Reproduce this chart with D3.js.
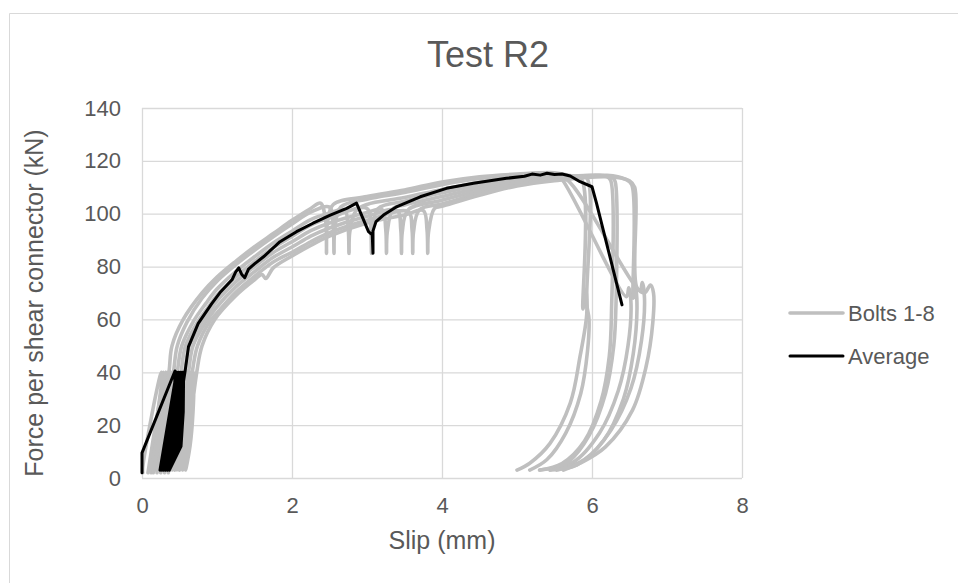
<!DOCTYPE html>
<html>
<head>
<meta charset="utf-8">
<script src="https://cdn.jsdelivr.net/npm/d3@7"></script>
<style>
  body { margin: 0; background: #fff; }
  text { font-family: "Liberation Sans", Arial, sans-serif; fill: #595959; }
</style>
</head>
<body>
<svg width="958" height="583"></svg>
<script>
  // tick values and legend labels
  const xTicks = [0, 2, 4, 6, 8];
  const yTicks = [0, 20, 40, 60, 80, 100, 120, 140];
  const seriesNames = ['Bolts 1-8', 'Average'];

  // slip (mm), force (kN)
  const bolt1 = [[0.01,2],[0.01,4],[0.26,40],
    [0.25,25],[0.21,12],[0.13,3],[0.29,40],
    [0.28,25],[0.24,12],[0.16,3],[0.32,40],
    [0.31,25],[0.27,12],[0.19,3],[0.36,40],
    [0.4,50],[0.55,60],[0.8,70],[1.0,76],[1.25,82],[1.5,87.5],[1.75,92.5],[2.0,97.5],[2.25,102],[2.38,104],
    [2.45,97],[2.46,85],[2.47,96],[2.55,103.5],
    [3.0,106.5],[3.5,109],[4.0,112],[4.5,114],[5.0,115],[5.5,115.5],[5.7,114.5],[5.86,113],
    [5.88,64],[5.92,71],[5.93,62],[5.84,45.9],[5.71,28.3],[5.44,13.1],[5.17,5.6],[5.0,3]];

  const bolt2 = [[0.08,2],[0.31,40],
    [0.30,25],[0.26,12],[0.18,3],[0.34,40],
    [0.33,25],[0.29,12],[0.21,3],[0.38,40],
    [0.37,25],[0.33,12],[0.24,3],[0.42,40],
    [0.47,50],[0.6,59],[0.8,68],[1.0,74.5],[1.25,80.7],[1.5,86.2],[1.75,91.3],[2.0,96.1],[2.25,100.6],[2.5,102.5],
    [2.55,95],[2.56,85],[2.57,94],[2.65,102.5],
    [3.0,105.5],[3.5,108],[4.0,111],[4.5,113.3],[5.0,114.5],[5.5,115.2],[5.6,113],
    [6.46,68.6],[6.49,72],[6.52,66],[6.48,50],[6.35,33],[6.1,17],[5.75,6],[5.3,3]];

  const bolt3 = [[0.12,2],[0.36,40],
    [0.35,25],[0.31,12],[0.22,3],[0.39,40],
    [0.38,25],[0.34,12],[0.25,3],[0.43,40],
    [0.42,25],[0.38,12],[0.28,3],[0.47,40],
    [0.53,50],[0.68,59],[0.85,66],[1.0,71.5],[1.25,78.1],[1.5,83.7],[1.75,88.9],[2.0,93.4],[2.25,97.8],[2.5,100.2],[2.7,101.5],
    [2.75,94],[2.76,85],[2.77,93],[2.85,101],
    [3.0,103.5],[3.5,106.1],[4.0,109.2],[4.5,111.9],[5.0,113.6],[5.5,114.6],[5.8,114],[5.93,113.5],
    [5.93,66],[5.96,60],[5.94,48],[5.85,32],[5.65,17],[5.4,7],[5.17,3]];

  const bolt4 = [[0.15,2],[0.41,40],
    [0.40,25],[0.36,12],[0.27,3],[0.44,40],
    [0.43,25],[0.39,12],[0.30,3],[0.48,40],
    [0.47,25],[0.43,12],[0.33,3],[0.52,40],
    [0.58,50],[0.74,59],[0.88,64.5],[1.0,69.2],[1.25,76.1],[1.5,81.9],[1.75,87.1],[2.0,91.4],[2.25,95.7],[2.5,98.4],[3.0,102],
    [3.05,94],[3.06,85],[3.07,93],[3.15,102],
    [3.5,104.7],[4.0,107.9],[4.5,110.8],[5.0,113],[5.5,114.2],[5.68,112.5],
    [6.64,71],[6.67,74],[6.7,68],[6.66,52],[6.52,34],[6.25,18],[5.9,7],[5.53,3]];

  const bolt5 = [[0.2,2],[0.46,40],
    [0.45,25],[0.41,12],[0.32,3],[0.49,40],
    [0.48,25],[0.44,12],[0.35,3],[0.53,40],
    [0.52,25],[0.48,12],[0.38,3],[0.57,40],
    [0.63,50],[0.8,59],[0.9,63],[1.0,67],[1.25,74.2],[1.5,80],[1.75,85.3],[2.0,89.4],[2.25,93.6],[2.5,96.5],[3.0,100.5],[3.2,101.6],
    [3.25,94],[3.26,85],[3.27,93],[3.35,102],
    [3.5,103.3],[4.0,106.5],[4.5,109.8],[5.0,112.3],[5.5,113.7],[6.0,114.5],[6.2,114],[6.25,112.5],
    [6.26,63],[6.23,46],[6.12,29],[5.9,14],[5.6,5.5],[5.31,3]];

  const bolt6 = [[0.25,2],[0.51,40],
    [0.50,25],[0.46,12],[0.38,3],[0.54,40],
    [0.53,25],[0.49,12],[0.41,3],[0.58,40],
    [0.57,25],[0.53,12],[0.44,3],[0.62,40],
    [0.68,50],[0.85,59],[1.0,64.8],[1.25,72.3],[1.5,78.1],[1.75,83.5],[2.0,87.4],[2.25,91.5],[2.5,94.6],[3.0,99],[3.4,101.3],
    [3.45,94],[3.46,85],[3.47,93],[3.55,101.5],
    [4.0,105.1],[4.5,108.8],[5.0,111.6],[5.5,113.3],[6.1,114.5],[6.28,113.5],[6.31,112],
    [6.32,66],[6.29,50],[6.18,32],[5.96,16],[5.7,6.5],[5.44,3]];

  const bolt7 = [[0.3,2],[0.56,40],
    [0.55,25],[0.51,12],[0.44,3],[0.59,40],
    [0.58,25],[0.54,12],[0.47,3],[0.63,40],
    [0.62,25],[0.58,12],[0.50,3],[0.67,40],
    [0.74,50],[0.91,59.5],[1.0,62.5],[1.25,70.3],[1.5,76.3],[1.75,81.7],[2.0,85.4],[2.25,89.4],[2.5,92.8],[3.0,97.5],[3.55,100.8],
    [3.6,94],[3.61,85],[3.62,93],[3.7,101.5],
    [4.0,103.7],[4.5,107.7],[5.0,110.9],[5.5,112.8],[6.2,114.5],[6.45,113],[6.53,111],
    [6.55,68],[6.58,72],[6.6,64],[6.55,47],[6.42,30],[6.15,14],[5.8,5],[5.45,3]];

  const bolt8 = [[0.35,2],[0.61,40],
    [0.60,25],[0.56,12],[0.50,3],[0.65,40],
    [0.64,25],[0.60,12],[0.54,3],[0.69,40],
    [0.68,25],[0.64,12],[0.58,3],[0.73,40],
    [0.8,50],[0.97,60],[1.25,69],[1.5,75],[1.6,77],[1.65,75.5],[1.75,79.5],[2.0,84],[2.25,88],[2.5,91.5],[3.0,96.5],[3.5,99.5],[3.75,101.2],
    [3.8,94],[3.81,85],[3.82,93],[3.9,102],
    [4.0,102.8],[4.5,107],[5.0,110.5],[5.5,112.5],[6.2,114],[6.5,112.5],[6.57,110],
    [6.6,72],[6.7,70],[6.78,73],[6.82,70],[6.81,58.6],[6.72,42],[6.54,25.7],[6.18,11.8],[5.84,5.6],[5.62,3]];

  const average = [[0,2],[0,9.5],[0.44,40.5],
    [0.43,25],[0.40,12],[0.24,3],
    [0.46,40],[0.455,25],[0.42,12],[0.265,3],
    [0.485,40],[0.48,25],[0.45,12],[0.29,3],
    [0.51,40],[0.505,25],[0.475,12],[0.315,3],
    [0.535,40],[0.53,25],[0.50,12],[0.34,3],
    [0.555,40],[0.55,25],[0.52,12],[0.365,3],
    [0.575,40.5],
    [0.62,49.7],[0.75,58.5],[0.93,66],[1.05,70.5],[1.2,75],[1.25,78],[1.29,79.5],[1.33,77],[1.37,75.8],[1.42,79],
    [1.5,81],[1.62,83.7],[1.84,89.4],[2.06,93.2],[2.28,96.4],[2.51,99.5],[2.73,102],[2.86,104],
    [3.02,93.2],[3.07,92],[3.08,85],[3.08,93.5],[3.12,97],[3.22,99.5],[3.4,102.7],[3.71,106.4],[4.06,109.6],
    [4.42,111.5],[4.86,113.4],[5.1,114.2],[5.2,115],[5.31,114.6],[5.4,115.3],[5.5,114.8],[5.6,115],[5.71,114.3],
    [5.84,112.1],[6.0,110.2],[6.06,104],[6.4,65.5]];

  const bolts = [bolt1, bolt2, bolt3, bolt4, bolt5, bolt6, bolt7, bolt8];

  const svg = d3.select('svg');
  const width = +svg.attr('width');
  const height = +svg.attr('height');

  const margin = { top: 108, right: 216, bottom: 105, left: 142 };
  const innerWidth = width - margin.left - margin.right;
  const innerHeight = height - margin.top - margin.bottom;

  const gray = '#bfbfbf';
  const gridColor = '#d9d9d9';

  svg.append('rect')
    .attr('width', width).attr('height', height)
    .attr('fill', '#fff');

  // chart frame, its right and bottom edges lie outside the window
  svg.append('path')
    .attr('d', `M9.5,${height} V13.5 H${width}`)
    .attr('fill', 'none')
    .attr('stroke', gridColor);

  const xScale = d3.scaleLinear().domain([0, 8]).range([0, innerWidth]);
  const yScale = d3.scaleLinear().domain([0, 140]).range([innerHeight, 0]);

  const g = svg.append('g')
    .attr('transform', `translate(${margin.left},${margin.top})`);

  const xAxis = d3.axisBottom(xScale)
    .tickValues(xTicks)
    .tickSize(-innerHeight)
    .tickPadding(19);

  const yAxis = d3.axisLeft(yScale)
    .tickValues(yTicks)
    .tickSize(-innerWidth)
    .tickPadding(21);

  const xAxisG = g.append('g')
    .attr('transform', `translate(0,${innerHeight})`)
    .call(xAxis);
  const yAxisG = g.append('g').call(yAxis);

  [xAxisG, yAxisG].forEach(a => {
    a.select('.domain').remove();
    a.selectAll('line').attr('stroke', gridColor).attr('stroke-width', 1.3);
    a.selectAll('text')
      .style('font-family', '"Liberation Sans", Arial, sans-serif')
      .style('font-size', '22px')
      .attr('fill', '#595959');
  });

  // chart title and axis titles
  svg.append('text')
    .attr('x', 488).attr('y', 67)
    .attr('text-anchor', 'middle')
    .style('font-size', '36px')
    .text('Test R2');

  svg.append('text')
    .attr('x', margin.left + innerWidth / 2).attr('y', 549)
    .attr('text-anchor', 'middle')
    .style('font-size', '25px')
    .text('Slip (mm)');

  svg.append('text')
    .attr('transform', 'translate(43,303) rotate(-90)')
    .attr('text-anchor', 'middle')
    .style('font-size', '25px')
    .text('Force per shear connector (kN)');

  // bolts drawn smooth, the average keeps its sharp corners
  const boltLine = d3.line()
    .x(d => xScale(d[0]))
    .y(d => yScale(d[1]))
    .curve(d3.curveCatmullRom.alpha(0.5));

  const avgLine = d3.line()
    .x(d => xScale(d[0]))
    .y(d => yScale(d[1]));

  g.selectAll('.bolt').data(bolts)
    .enter().append('path')
      .attr('class', 'bolt')
      .attr('d', boltLine)
      .attr('fill', 'none')
      .attr('stroke', gray)
      .attr('stroke-width', 3.6)
      .attr('stroke-linejoin', 'round')
      .attr('stroke-linecap', 'round');

  g.append('path')
    .datum(average)
    .attr('d', avgLine)
    .attr('fill', 'none')
    .attr('stroke', '#000')
    .attr('stroke-width', 3)
    .attr('stroke-linejoin', 'round')
    .attr('stroke-linecap', 'round');

  // legend
  const legend = svg.append('g').attr('transform', 'translate(790,313)');
  const legendItem = legend.selectAll('g').data(seriesNames)
    .enter().append('g')
      .attr('transform', (d, i) => `translate(0,${i * 43})`);
  legendItem.append('line')
    .attr('x1', 0).attr('x2', 53)
    .attr('stroke', (d, i) => i === 0 ? gray : '#000')
    .attr('stroke-width', (d, i) => i === 0 ? 3.6 : 3)
    .attr('stroke-linecap', 'round');
  legendItem.append('text')
    .attr('x', 58).attr('dy', '0.35em')
    .style('font-size', '22px')
    .text(d => d);
</script>
</body>
</html>
